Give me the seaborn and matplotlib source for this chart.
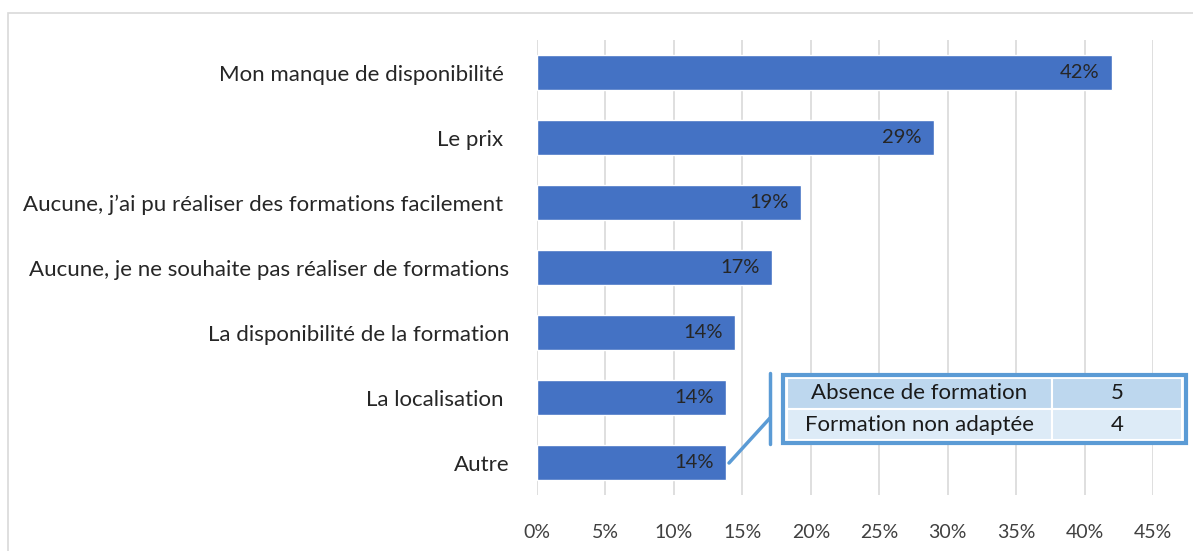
import matplotlib
matplotlib.use('Agg')
import matplotlib.pyplot as plt
import pandas as pd
import seaborn as sns
from matplotlib.lines import Line2D
from matplotlib.patches import Rectangle
from matplotlib.ticker import PercentFormatter

# data
categories = [
    'Mon manque de disponibilité ',
    'Le prix ',
    'Aucune, j\u2019ai pu réaliser des formations facilement ',
    'Aucune, je ne souhaite pas réaliser de formations',
    'La disponibilité de la formation',
    'La localisation ',
    'Autre',
]
values = [0.42, 0.29, 0.193, 0.172, 0.145, 0.138, 0.138]
value_labels = ['42%', '29%', '19%', '17%', '14%', '14%', '14%']
x_ticks = [0, 0.05, 0.10, 0.15, 0.20, 0.25, 0.30, 0.35, 0.40, 0.45]
table_labels = ['Absence de formation', 'Formation non adaptée']
table_counts = [5, 4]

BAR_COLOR = '#4472C4'
GRID_COLOR = '#D9D9D9'
TABLE_BLUE = '#5B9BD5'


def main():
    '''draw the chart and save out.png'''
    sns.set_theme(style='white')
    plt.rcParams['font.family'] = ['Lato', 'DejaVu Sans']

    W, H = 1193, 551
    fig = plt.figure(figsize=(W / 100, H / 100), dpi=100)

    # outer chart frame
    fig.patches.append(Rectangle((8 / W, -0.01), (W - 7) / W, 1 - 13 / H + 0.01,
                                 transform=fig.transFigure, fill=False,
                                 edgecolor=GRID_COLOR, lw=1.2))

    ax = fig.add_axes([537 / W, 1 - 495 / H, (1153 - 537) / W, (495 - 40) / H])
    df = pd.DataFrame({'cat': categories, 'val': values})
    sns.barplot(data=df, y='cat', x='val', color=BAR_COLOR, saturation=1,
                width=0.55, ax=ax, zorder=2)

    ax.set_xlim(0, 0.45)
    ax.set_ylim(6.5, -0.5)
    ax.set_xticks(x_ticks)
    ax.xaxis.set_major_formatter(PercentFormatter(1.0, decimals=0))
    ax.grid(axis='x', color=GRID_COLOR, lw=1.2, zorder=0)
    ax.grid(axis='y', visible=False)
    ax.set_axisbelow(True)
    for spine in ax.spines.values():
        spine.set_visible(False)
    ax.set_xlabel('')
    ax.set_ylabel('')
    ax.tick_params(axis='x', length=0, pad=21, labelsize=14, labelcolor='#404040')
    ax.tick_params(axis='y', length=0, pad=20, labelsize=16, labelcolor='#262626')

    for i, (val, lab) in enumerate(zip(values, value_labels)):
        ax.text(val - 0.009, i, lab, ha='right', va='center',
                fontsize=14.5, color='#262626', zorder=3)

    # inset data table
    tx0, tx1, ty0, ty1 = 783, 1186, 375, 443
    tax = fig.add_axes([tx0 / W, 1 - ty1 / H, (tx1 - tx0) / W, (ty1 - ty0) / H])
    tax.set_xlim(0, 1)
    tax.set_ylim(0, 1)
    tax.axis('off')
    cell_text = [[lab, str(cnt)] for lab, cnt in zip(table_labels, table_counts)]
    tbl = tax.table(cellText=cell_text, colWidths=[0.67, 0.33],
                    cellLoc='center', bbox=[0.01, 0.04, 0.98, 0.92])
    tbl.auto_set_font_size(False)
    for (r, c), cell in tbl.get_celld().items():
        cell.set_facecolor('#BDD7EE' if r == 0 else '#DDEBF7')
        cell.set_edgecolor('white')
        cell.set_linewidth(1.5)
        cell.get_text().set_fontsize(16)
        cell.get_text().set_color('#1a1a1a')
    tax.add_patch(Rectangle((0, 0), 1, 1, fill=False, edgecolor=TABLE_BLUE,
                            lw=3, transform=tax.transAxes, clip_on=False))

    # callout bracket
    fig.add_artist(Line2D([770 / W, 770 / W], [1 - 373 / H, 1 - 444 / H],
                          color=TABLE_BLUE, lw=2.5, transform=fig.transFigure))
    fig.add_artist(Line2D([770 / W, 729 / W], [1 - 418 / H, 1 - 463 / H],
                          color=TABLE_BLUE, lw=2.5, transform=fig.transFigure))

    fig.savefig('out.png', dpi=100, facecolor='white')


if __name__ == '__main__':
    main()
